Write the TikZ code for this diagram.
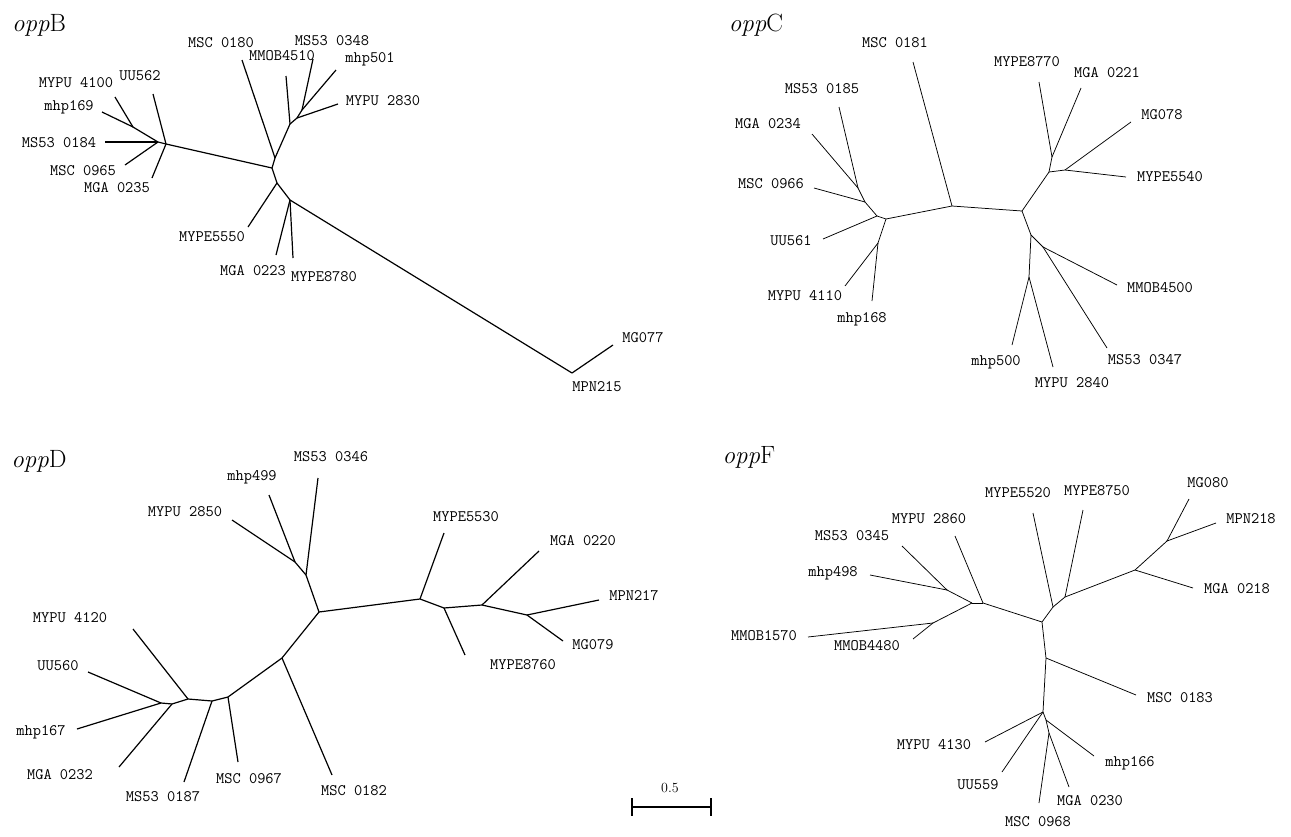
\documentclass[tikz,border=0pt]{standalone}
\usepackage{fontspec}
\usetikzlibrary{calc}

\tikzset{
  lab/.style={font=\fontsize{16}{16}\selectfont\ttfamily, inner sep=0pt},
  ttl/.style={font=\fontsize{25}{25}\selectfont, inner sep=0pt},
  brthick/.style={line width=1.2pt},
  brthin/.style={line width=0.75pt}
}

\begin{document}
\begin{tikzpicture}[x=1pt,y=-1pt]
    \useasboundingbox (0,0) rectangle (1291,836);

    % oppB
    \node[ttl] at (39,25) (tb) {\textit{opp}B};
    \coordinate (bA) at (166,144);
    \coordinate (bB) at (158,142);
    \coordinate (bC) at (133,127);
    \coordinate (bD) at (272,168);
    \coordinate (bE) at (275,158);
    \coordinate (bF) at (290,124);
    \coordinate (bG) at (297,118);
    \coordinate (bH) at (302,110);
    \coordinate (bI) at (277,183);
    \coordinate (bJ) at (290,200);
    \coordinate (bK) at (572,373);
    \coordinate (b-mypu4100) at (115,97);
    \coordinate (b-mhp169) at (102,112);
    \coordinate (b-ms530184) at (105,142);
    \coordinate (b-msc0965) at (125,165);
    \coordinate (b-mga0235) at (152,178);
    \coordinate (b-uu562) at (153,94);
    \coordinate (b-msc0180) at (242,60);
    \coordinate (b-mmob4510) at (286,76);
    \coordinate (b-ms530348) at (313,59);
    \coordinate (b-mhp501) at (336,70);
    \coordinate (b-mypu2830) at (338,104);
    \coordinate (b-mype5550) at (248,227);
    \coordinate (b-mga0223) at (276,255);
    \coordinate (b-mype8780) at (293,258);
    \coordinate (b-mg077) at (613,345);
    \node[lab] at (76,83) (lb-mypu4100) {MYPU 4100};
    \node[lab] at (69,107) (lb-mhp169) {mhp169};
    \node[lab] at (59,143) (lb-ms530184) {MS53 0184};
    \node[lab] at (83,171) (lb-msc0965) {MSC 0965};
    \node[lab] at (117,188) (lb-mga0235) {MGA 0235};
    \node[lab] at (140,76) (lb-uu562) {UU562};
    \node[lab] at (221,43) (lb-msc0180) {MSC 0180};
    \node[lab] at (282,56) (lb-mmob4510) {MMOB4510};
    \node[lab] at (332,41) (lb-ms530348) {MS53 0348};
    \node[lab] at (370,59) (lb-mhp501) {mhp501};
    \node[lab] at (383,101) (lb-mypu2830) {MYPU 2830};
    \node[lab] at (212,237) (lb-mype5550) {MYPE5550};
    \node[lab] at (253,271) (lb-mga0223) {MGA 0223};
    \node[lab] at (324,277) (lb-mype8780) {MYPE8780};
    \node[lab] at (643,338) (lb-mg077) {MG077};
    \node[lab] at (597,387) (lb-mpn215) {MPN215};
    \draw[brthick] (bC) -- (b-mypu4100);
    \draw[brthick] (bC) -- (b-mhp169);
    \draw[brthick] (bC) -- (bB);
    \draw[brthick] (bB) -- (b-ms530184);
    \draw[brthick] (bB) -- (b-msc0965);
    \draw[brthick] (bB) -- (bA);
    \draw[brthick] (bA) -- (b-uu562);
    \draw[brthick] (bA) -- (b-mga0235);
    \draw[brthick] (bA) -- (bD);
    \draw[brthick] (bD) -- (bE);
    \draw[brthick] (bE) -- (b-msc0180);
    \draw[brthick] (bE) -- (bF);
    \draw[brthick] (bF) -- (b-mmob4510);
    \draw[brthick] (bF) -- (bG);
    \draw[brthick] (bG) -- (b-mypu2830);
    \draw[brthick] (bG) -- (bH);
    \draw[brthick] (bH) -- (b-ms530348);
    \draw[brthick] (bH) -- (b-mhp501);
    \draw[brthick] (bD) -- (bI);
    \draw[brthick] (bI) -- (b-mype5550);
    \draw[brthick] (bI) -- (bJ);
    \draw[brthick] (bJ) -- (b-mga0223);
    \draw[brthick] (bJ) -- (b-mype8780);
    \draw[brthick] (bJ) -- (bK);
    \draw[brthick] (bK) -- (b-mg077);

    % oppC
    \node[ttl] at (756,25) (tc) {\textit{opp}C};
    \coordinate (cK) at (952,206);
    \coordinate (cM) at (886,219);
    \coordinate (cN) at (878,243);
    \coordinate (cP) at (858,188);
    \coordinate (cQ) at (865,202);
    \coordinate (cR) at (877,216);
    \coordinate (cS) at (1022,211);
    \coordinate (cT) at (1049,172);
    \coordinate (cU) at (1052,157);
    \coordinate (cV) at (1065,170);
    \coordinate (cW) at (1031,235);
    \coordinate (cX) at (1043,247);
    \coordinate (cY) at (1029,277);
    \coordinate (c-msc0181) at (913,62);
    \coordinate (c-ms530185) at (839,107);
    \coordinate (c-mga0234) at (812,134);
    \coordinate (c-msc0966) at (814,188);
    \coordinate (c-uu561) at (823,239);
    \coordinate (c-mypu4110) at (845,286);
    \coordinate (c-mhp168) at (872,301);
    \coordinate (c-mype8770) at (1039,82);
    \coordinate (c-mga0221) at (1081,88);
    \coordinate (c-mg078) at (1131,122);
    \coordinate (c-mype5540) at (1126,177);
    \coordinate (c-mmob4500) at (1117,285);
    \coordinate (c-ms530347) at (1107,348);
    \coordinate (c-mhp500) at (1012,345);
    \coordinate (c-mypu2840) at (1053,367);
    \node[lab] at (895,43) (lc-msc0181) {MSC 0181};
    \node[lab] at (822,89) (lc-ms530185) {MS53 0185};
    \node[lab] at (768,124) (lc-mga0234) {MGA 0234};
    \node[lab] at (771,184) (lc-msc0966) {MSC 0966};
    \node[lab] at (791,241) (lc-uu561) {UU561};
    \node[lab] at (805,296) (lc-mypu4110) {MYPU 4110};
    \node[lab] at (862,319) (lc-mhp168) {mhp168};
    \node[lab] at (1027,62) (lc-mype8770) {MYPE8770};
    \node[lab] at (1107,73) (lc-mga0221) {MGA 0221};
    \node[lab] at (1162,115) (lc-mg078) {MG078};
    \node[lab] at (1170,177) (lc-mype5540) {MYPE5540};
    \node[lab] at (1160,288) (lc-mmob4500) {MMOB4500};
    \node[lab] at (1145,360) (lc-ms530347) {MS53 0347};
    \node[lab] at (996,362) (lc-mhp500) {mhp500};
    \node[lab] at (1072,383) (lc-mypu2840) {MYPU 2840};
    \draw[brthin] (cP) -- (c-ms530185);
    \draw[brthin] (cP) -- (c-mga0234);
    \draw[brthin] (cP) -- (cQ);
    \draw[brthin] (cQ) -- (c-msc0966);
    \draw[brthin] (cQ) -- (cR);
    \draw[brthin] (cR) -- (c-uu561);
    \draw[brthin] (cR) -- (cM);
    \draw[brthin] (cM) -- (cN);
    \draw[brthin] (cN) -- (c-mypu4110);
    \draw[brthin] (cN) -- (c-mhp168);
    \draw[brthin] (cM) -- (cK);
    \draw[brthin] (cK) -- (c-msc0181);
    \draw[brthin] (cK) -- (cS);
    \draw[brthin] (cS) -- (cT);
    \draw[brthin] (cT) -- (cU);
    \draw[brthin] (cU) -- (c-mype8770);
    \draw[brthin] (cU) -- (c-mga0221);
    \draw[brthin] (cT) -- (cV);
    \draw[brthin] (cV) -- (c-mg078);
    \draw[brthin] (cV) -- (c-mype5540);
    \draw[brthin] (cS) -- (cW);
    \draw[brthin] (cW) -- (cX);
    \draw[brthin] (cX) -- (c-mmob4500);
    \draw[brthin] (cX) -- (c-ms530347);
    \draw[brthin] (cW) -- (cY);
    \draw[brthin] (cY) -- (c-mhp500);
    \draw[brthin] (cY) -- (c-mypu2840);

    % oppD
    \node[ttl] at (39,461) (td) {\textit{opp}D};
    \coordinate (d1) at (295,562);
    \coordinate (d2) at (306,575);
    \coordinate (d3) at (319,612);
    \coordinate (d4) at (420,599);
    \coordinate (d5) at (444,608);
    \coordinate (d6) at (482,605);
    \coordinate (d7) at (527,615);
    \coordinate (d8) at (282,658);
    \coordinate (d9) at (228,697);
    \coordinate (d10) at (212,701);
    \coordinate (d11) at (188,699);
    \coordinate (d12) at (172,704);
    \coordinate (d13) at (161,703);
    \coordinate (d-ms530346) at (318,478);
    \coordinate (d-mhp499) at (269,495);
    \coordinate (d-mypu2850) at (232,520);
    \coordinate (d-mype5530) at (444,533);
    \coordinate (d-mype8760) at (465,655);
    \coordinate (d-mga0220) at (539,551);
    \coordinate (d-mpn217) at (599,600);
    \coordinate (d-mg079) at (563,641);
    \coordinate (d-msc0182) at (332,775);
    \coordinate (d-msc0967) at (238,762);
    \coordinate (d-ms530187) at (184,782);
    \coordinate (d-mypu4120) at (133,629);
    \coordinate (d-mga0232) at (119,767);
    \coordinate (d-uu560) at (88,672);
    \coordinate (d-mhp167) at (77,729);
    \node[lab] at (331,457) (ld-ms530346) {MS53 0346};
    \node[lab] at (252,477) (ld-mhp499) {mhp499};
    \node[lab] at (185,512) (ld-mypu2850) {MYPU 2850};
    \node[lab] at (466,517) (ld-mype5530) {MYPE5530};
    \node[lab] at (523,665) (ld-mype8760) {MYPE8760};
    \node[lab] at (583,541) (ld-mga0220) {MGA 0220};
    \node[lab] at (634,596) (ld-mpn217) {MPN217};
    \node[lab] at (593,645) (ld-mg079) {MG079};
    \node[lab] at (354,791) (ld-msc0182) {MSC 0182};
    \node[lab] at (249,779) (ld-msc0967) {MSC 0967};
    \node[lab] at (163,797) (ld-ms530187) {MS53 0187};
    \node[lab] at (70,618) (ld-mypu4120) {MYPU 4120};
    \node[lab] at (60,775) (ld-mga0232) {MGA 0232};
    \node[lab] at (58,666) (ld-uu560) {UU560};
    \node[lab] at (41,732) (ld-mhp167) {mhp167};
    \draw[brthick] (d1) -- (d-mhp499);
    \draw[brthick] (d1) -- (d-mypu2850);
    \draw[brthick] (d1) -- (d2);
    \draw[brthick] (d2) -- (d-ms530346);
    \draw[brthick] (d2) -- (d3);
    \draw[brthick] (d3) -- (d4);
    \draw[brthick] (d4) -- (d-mype5530);
    \draw[brthick] (d4) -- (d5);
    \draw[brthick] (d5) -- (d-mype8760);
    \draw[brthick] (d5) -- (d6);
    \draw[brthick] (d6) -- (d-mga0220);
    \draw[brthick] (d6) -- (d7);
    \draw[brthick] (d7) -- (d-mpn217);
    \draw[brthick] (d7) -- (d-mg079);
    \draw[brthick] (d3) -- (d8);
    \draw[brthick] (d8) -- (d-msc0182);
    \draw[brthick] (d8) -- (d9);
    \draw[brthick] (d9) -- (d-msc0967);
    \draw[brthick] (d9) -- (d10);
    \draw[brthick] (d10) -- (d-ms530187);
    \draw[brthick] (d10) -- (d11);
    \draw[brthick] (d11) -- (d-mypu4120);
    \draw[brthick] (d11) -- (d12);
    \draw[brthick] (d12) -- (d-mga0232);
    \draw[brthick] (d12) -- (d13);
    \draw[brthick] (d13) -- (d-uu560);
    \draw[brthick] (d13) -- (d-mhp167);

    % oppF
    \node[ttl] at (749,457) (tf) {\textit{opp}F};
    \coordinate (f1) at (1065,597);
    \coordinate (f2) at (1042,622);
    \coordinate (f3) at (1135,570);
    \coordinate (f4) at (1053,607);
    \coordinate (f5) at (1167,541);
    \coordinate (f6) at (1046,658);
    \coordinate (f7) at (1043,712);
    \coordinate (f8) at (1046,720);
    \coordinate (f9) at (1049,733);
    \coordinate (f10) at (983,603);
    \coordinate (f11) at (972,603);
    \coordinate (f12) at (947,590);
    \coordinate (f13) at (933,623);
    \coordinate (f-mype5520) at (1033,513);
    \coordinate (f-mype8750) at (1083,510);
    \coordinate (f-mga0218) at (1193,588);
    \coordinate (f-mg080) at (1189,499);
    \coordinate (f-mpn218) at (1216,523);
    \coordinate (f-msc0183) at (1136,695);
    \coordinate (f-mypu4130) at (985,742);
    \coordinate (f-uu559) at (1002,772);
    \coordinate (f-mhp166) at (1094,756);
    \coordinate (f-mga0230) at (1069,787);
    \coordinate (f-msc0968) at (1039,803);
    \coordinate (f-mypu2860) at (955,536);
    \coordinate (f-ms530345) at (902,546);
    \coordinate (f-mhp498) at (870,575);
    \coordinate (f-mmob1570) at (808,637);
    \coordinate (f-mmob4480) at (913,639);
    \node[lab] at (1018,493) (lf-mype5520) {MYPE5520};
    \node[lab] at (1097,491) (lf-mype8750) {MYPE8750};
    \node[lab] at (1237,589) (lf-mga0218) {MGA 0218};
    \node[lab] at (1208,483) (lf-mg080) {MG080};
    \node[lab] at (1251,519) (lf-mpn218) {MPN218};
    \node[lab] at (1180,698) (lf-msc0183) {MSC 0183};
    \node[lab] at (934,745) (lf-mypu4130) {MYPU 4130};
    \node[lab] at (978,785) (lf-uu559) {UU559};
    \node[lab] at (1130,763) (lf-mhp166) {mhp166};
    \node[lab] at (1090,801) (lf-mga0230) {MGA 0230};
    \node[lab] at (1038,822) (lf-msc0968) {MSC 0968};
    \node[lab] at (929,519) (lf-mypu2860) {MYPU 2860};
    \node[lab] at (852,536) (lf-ms530345) {MS53 0345};
    \node[lab] at (833,573) (lf-mhp498) {mhp498};
    \node[lab] at (764,636) (lf-mmob1570) {MMOB1570};
    \node[lab] at (867,646) (lf-mmob4480) {MMOB4480};
    \draw[brthin] (f2) -- (f4);
    \draw[brthin] (f4) -- (f-mype5520);
    \draw[brthin] (f4) -- (f1);
    \draw[brthin] (f1) -- (f-mype8750);
    \draw[brthin] (f1) -- (f3);
    \draw[brthin] (f3) -- (f-mga0218);
    \draw[brthin] (f3) -- (f5);
    \draw[brthin] (f5) -- (f-mg080);
    \draw[brthin] (f5) -- (f-mpn218);
    \draw[brthin] (f2) -- (f6);
    \draw[brthin] (f6) -- (f-msc0183);
    \draw[brthin] (f6) -- (f7);
    \draw[brthin] (f7) -- (f-mypu4130);
    \draw[brthin] (f7) -- (f-uu559);
    \draw[brthin] (f7) -- (f8);
    \draw[brthin] (f8) -- (f-mhp166);
    \draw[brthin] (f8) -- (f9);
    \draw[brthin] (f9) -- (f-mga0230);
    \draw[brthin] (f9) -- (f-msc0968);
    \draw[brthin] (f2) -- (f10);
    \draw[brthin] (f10) -- (f-mypu2860);
    \draw[brthin] (f10) -- (f11);
    \draw[brthin] (f11) -- (f12);
    \draw[brthin] (f12) -- (f-ms530345);
    \draw[brthin] (f12) -- (f-mhp498);
    \draw[brthin] (f11) -- (f13);
    \draw[brthin] (f13) -- (f-mmob1570);
    \draw[brthin] (f13) -- (f-mmob4480);

    % scale
    \coordinate (sl) at (632,807);
    \coordinate (sr) at (711,807);
    \node[font=\fontsize{14}{14}\selectfont, inner sep=0pt] at (670,788) (sc) {0.5};
    \draw[brthick] (sl) -- (sr);
    \draw[brthick] ($(sl)+(0,-9)$) -- ($(sl)+(0,9)$);
    \draw[brthick] ($(sr)+(0,-9)$) -- ($(sr)+(0,9)$);
\end{tikzpicture}
\end{document}
